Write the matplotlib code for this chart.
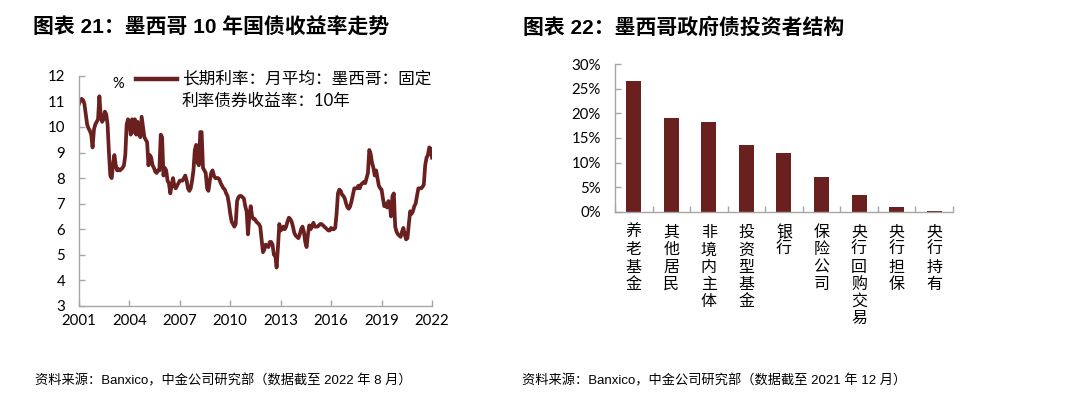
import numpy as np
import matplotlib
matplotlib.use("Agg")
import matplotlib.pyplot as plt
from matplotlib.lines import Line2D

plt.rcParams['font.family'] = ['Lato', 'Noto Sans CJK SC', 'DejaVu Sans']
plt.rcParams['axes.unicode_minus'] = False

# ---- 图表 21 数据：墨西哥 10 年国债收益率，月度，2001-01 至 2022-08 ----
yield_2001 = [10.9, 11.05, 11.1, 11.05, 10.9, 10.5, 10.1, 9.95, 9.85, 9.7, 9.2, 9.9]
yield_2002 = [10.1, 10.2, 10.3, 11.2, 10.4, 10.2, 10.3, 10.6, 10.5, 10.1, 9.0, 8.1]
yield_2003 = [8.0, 8.5, 8.9, 8.5, 8.3, 8.35, 8.3, 8.35, 8.4, 8.5, 8.9, 10.1]
yield_2004 = [10.3, 10.2, 9.7, 10.3, 9.8, 10.3, 9.7, 10.2, 9.7, 9.6, 10.4, 10.0]
yield_2005 = [9.6, 9.5, 9.4, 8.5, 8.9, 8.8, 8.5, 8.4, 8.25, 8.2, 8.3, 8.3]
yield_2006 = [9.7, 9.6, 8.1, 8.4, 8.3, 7.9, 7.8, 7.4, 7.7, 8.0, 7.7, 7.6]
yield_2007 = [7.7, 7.8, 7.9, 7.9, 7.9, 8.0, 8.1, 7.9, 7.6, 7.5, 7.6, 7.9]
yield_2008 = [8.3, 9.1, 9.3, 8.6, 8.5, 9.8, 9.8, 8.4, 8.3, 8.2, 7.6, 7.5]
yield_2009 = [7.9, 8.2, 8.3, 8.1, 8.0, 8.0, 8.0, 7.95, 7.8, 7.7, 7.6, 7.55]
yield_2010 = [7.4, 7.3, 7.0, 6.6, 6.3, 6.2, 6.1, 6.2, 7.1, 7.25, 7.3, 7.3]
yield_2011 = [7.25, 7.2, 6.9, 6.7, 5.8, 6.5, 6.9, 6.5, 6.4, 6.4, 6.3, 6.25]
yield_2012 = [6.2, 6.1, 5.6, 5.1, 5.2, 5.4, 5.35, 5.3, 5.5, 5.5, 5.4, 5.0]
yield_2013 = [5.0, 4.5, 5.3, 6.2, 5.95, 6.0, 6.1, 6.0, 6.1, 6.3, 6.45, 6.4]
yield_2014 = [6.3, 6.1, 5.85, 5.75, 5.7, 5.65, 5.8, 6.0, 6.1, 5.9, 5.5, 5.3]
yield_2015 = [5.8, 6.15, 6.0, 6.1, 6.25, 6.1, 6.1, 6.1, 6.15, 6.2, 6.2, 6.15]
yield_2016 = [6.1, 6.05, 6.0, 5.95, 5.95, 6.05, 6.0, 6.0, 6.05, 6.6, 7.4, 7.55]
yield_2017 = [7.5, 7.35, 7.3, 7.2, 7.0, 6.85, 6.8, 6.9, 7.1, 7.35, 7.6, 7.6]
yield_2018 = [7.6, 7.7, 7.6, 7.75, 7.8, 7.85, 7.8, 8.0, 8.2, 9.1, 8.95, 8.6]
yield_2019 = [8.4, 8.1, 8.3, 8.0, 7.7, 7.6, 7.55, 7.2, 6.9, 7.0, 6.85, 7.1]
yield_2020 = [7.0, 6.5, 7.3, 7.4, 6.1, 5.9, 5.8, 5.75, 5.7, 5.9, 6.05, 5.8]
yield_2021 = [5.6, 5.65, 6.2, 6.7, 6.6, 6.7, 6.9, 7.0, 7.3, 7.6, 7.6, 7.6]
yield_2022 = [7.65, 7.75, 8.5, 8.8, 8.9, 9.2, 9.15, 8.8]

mx_yield = (yield_2001 + yield_2002 + yield_2003 + yield_2004 + yield_2005 + yield_2006
            + yield_2007 + yield_2008 + yield_2009 + yield_2010 + yield_2011 + yield_2012
            + yield_2013 + yield_2014 + yield_2015 + yield_2016 + yield_2017 + yield_2018
            + yield_2019 + yield_2020 + yield_2021 + yield_2022)
year_labels = ['2001', '2004', '2007', '2010', '2013', '2016', '2019', '2022']

# ---- 图表 22 数据：墨西哥政府债投资者结构 ----
investors = ['养老基金', '其他居民', '非境内主体', '投资型基金', '银行',
             '保险公司', '央行回购交易', '央行担保', '央行持有']
shares = [26.6, 18.95, 18.15, 13.5, 11.85, 6.97, 3.35, 1.0, 0.2]

RED = '#6B2020'
AXC = '#A6A6A6'
TITLE_FONT = ['Liberation Sans', 'Noto Sans CJK SC']
NOTE_FONT = ['Liberation Sans Narrow', 'Liberation Sans', 'Noto Sans CJK SC']

fig = plt.figure(figsize=(10.8, 4.19), dpi=100)

# ---- 左图 ----
ax1 = fig.add_axes([0.0731, 0.270, 0.3269, 0.549])
x = np.arange(len(mx_yield))
ax1.plot(x, mx_yield, color=RED, lw=2.7, solid_joinstyle='round')
ax1.set_xlim(0, len(mx_yield) - 1)
ax1.set_ylim(3, 12)
ax1.set_yticks(range(3, 13))
ax1.set_xticks(np.linspace(0, len(mx_yield) - 1, len(year_labels)))
ax1.set_xticklabels(year_labels)
ax1.tick_params(axis='y', direction='in', length=4, width=1, color=AXC, pad=10, labelsize=10.8)
ax1.tick_params(axis='x', direction='in', length=4, width=1, color=AXC, pad=6, labelsize=10.8)
for s in ['top', 'right']:
    ax1.spines[s].set_visible(False)
for s in ['left', 'bottom']:
    ax1.spines[s].set_color(AXC)
    ax1.spines[s].set_linewidth(1)
ax1.text(0.095, 0.965, '%', transform=ax1.transAxes, fontsize=10.5, ha='left', va='center')

# 图例
fig.add_artist(Line2D([136 / 1080, 177 / 1080], [1 - 79 / 419, 1 - 79 / 419],
                      color=RED, lw=3.2, transform=fig.transFigure))
fig.text(182 / 1080, 1 - 79 / 419, '长期利率：月平均：墨西哥：固定', fontsize=12, va='center', ha='left')
fig.text(182 / 1080, 1 - 101 / 419, '利率债券收益率：10年', fontsize=12, va='center', ha='left')

# ---- 右图 ----
ax2 = fig.add_axes([0.5694, 0.4947, 0.3130, 0.3523])
pos = np.arange(len(investors))
ax2.bar(pos, np.array(shares) / 100, width=0.4, color=RED)
ax2.set_xlim(-0.5, len(investors) - 0.5)
ax2.set_ylim(0, 0.30)
ax2.set_yticks(np.arange(0, 0.301, 0.05))
ax2.set_yticklabels([f'{int(round(v * 100))}%' for v in np.arange(0, 0.301, 0.05)])
ax2.set_xticks(np.arange(-0.5, len(investors), 1))
ax2.set_xticklabels([])
ax2.tick_params(axis='y', direction='in', length=4, width=1, color=AXC, pad=10, labelsize=10.8)
ax2.tick_params(axis='x', direction='in', length=4, width=1, color=AXC)
for s in ['top', 'right']:
    ax2.spines[s].set_visible(False)
for s in ['left', 'bottom']:
    ax2.spines[s].set_color(AXC)
    ax2.spines[s].set_linewidth(1)
for p, name in zip(pos, investors):
    ax2.text(p, -0.025, '\n'.join(name), fontsize=11.5, ha='center', va='top',
             linespacing=1.02, family=['Noto Sans CJK SC'])

# ---- 标题与来源 ----
fig.text(33 / 1080, 1 - 28 / 419, '图表 21：墨西哥 10 年国债收益率走势', fontsize=15,
         fontweight='bold', family=TITLE_FONT, va='center', ha='left')
fig.text(523 / 1080, 1 - 28 / 419, '图表 22：墨西哥政府债投资者结构', fontsize=15,
         fontweight='bold', family=TITLE_FONT, va='center', ha='left')
fig.text(35 / 1080, 1 - 381 / 419, '资料来源：Banxico，中金公司研究部（数据截至 2022 年 8 月）',
         fontsize=9.5, family=NOTE_FONT, va='center', ha='left')
fig.text(522 / 1080, 1 - 381 / 419, '资料来源：Banxico，中金公司研究部（数据截至 2021 年 12 月）',
         fontsize=9.5, family=NOTE_FONT, va='center', ha='left')

fig.savefig('out.png', dpi=100)
